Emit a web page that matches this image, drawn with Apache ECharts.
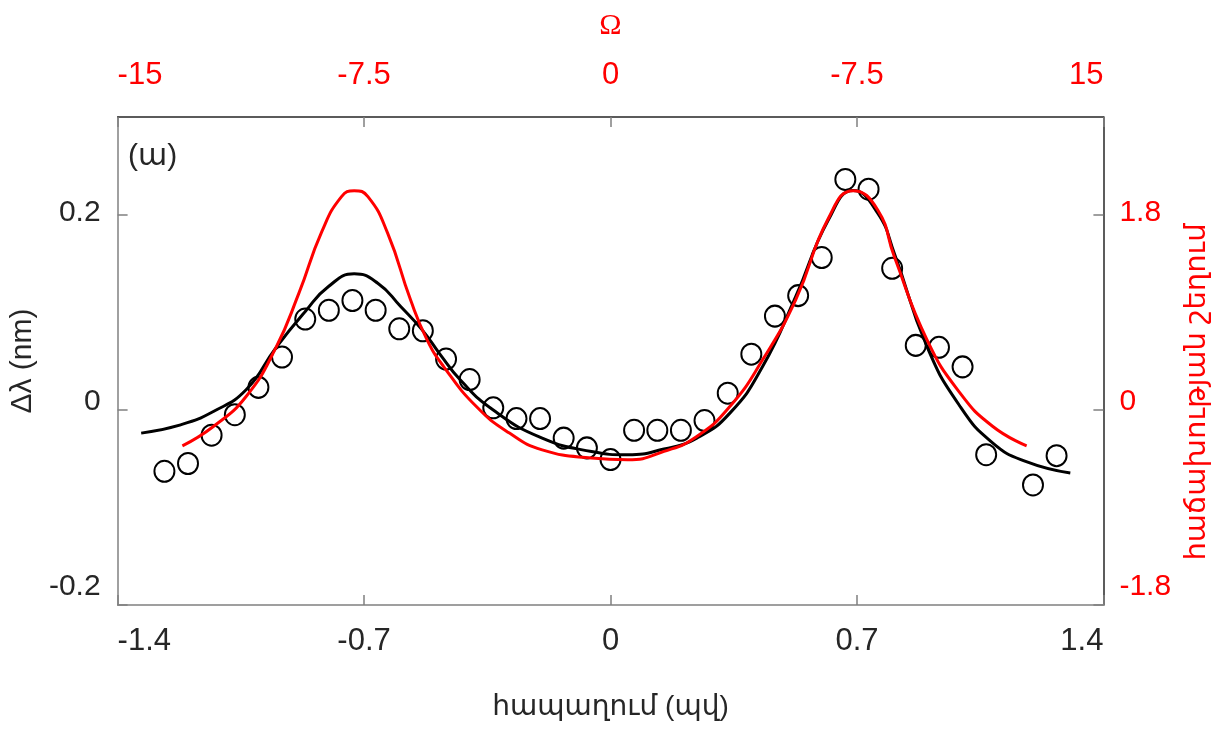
<!DOCTYPE html>
<html><head><meta charset="utf-8">
<script src="https://cdn.jsdelivr.net/npm/echarts@6/dist/echarts.min.js"></script>
<style>html,body{margin:0;padding:0;background:#fff}#c{width:1219px;height:729px}</style>
</head><body><div id="c"></div>
<script>
// measured points (delay in ps, shift in nm)
const delayX = [-1.267,-1.200,-1.133,-1.067,-1.000,-0.933,-0.867,-0.800,-0.733,-0.667,-0.600,-0.533,-0.467,-0.400,-0.333,-0.267,-0.200,-0.133,-0.067,0,0.067,0.133,0.200,0.267,0.333,0.400,0.467,0.533,0.600,0.667,0.733,0.800,0.867,0.933,1.000,1.067,1.200,1.267];
const shiftY = [-0.063,-0.055,-0.026,-0.005,0.023,0.054,0.093,0.102,0.112,0.102,0.083,0.081,0.052,0.031,0.002,-0.009,-0.009,-0.029,-0.039,-0.051,-0.021,-0.021,-0.021,-0.011,0.017,0.057,0.096,0.117,0.156,0.236,0.226,0.145,0.066,0.064,0.044,-0.046,-0.077,-0.047];
// black fit curve (left axis)
const blackX = [-1.333,-1.221,-1.128,-1.035,-0.951,-0.867,-0.801,-0.728,-0.661,-0.596,-0.535,-0.483,-0.427,-0.334,-0.194,-0.054,0.049,0.152,0.245,0.339,0.432,0.526,0.619,0.689,0.759,0.806,0.899,0.993,1.086,1.179,1.306];
const blackY = [-0.0239,-0.0154,-0.0017,0.0205,0.0632,0.1007,0.1263,0.1393,0.1297,0.1058,0.0819,0.0563,0.0307,0.0000,-0.0290,-0.0427,-0.0461,-0.0402,-0.0290,-0.0034,0.0443,0.1160,0.1946,0.2246,0.2014,0.1605,0.0648,0.0034,-0.0341,-0.0529,-0.0648];
// red model curve (right axis)
const redX = [-1.216,-1.128,-1.035,-0.951,-0.885,-0.820,-0.764,-0.728,-0.689,-0.633,-0.568,-0.521,-0.474,-0.381,-0.287,-0.194,-0.054,0.049,0.152,0.245,0.339,0.432,0.526,0.619,0.689,0.759,0.806,0.899,0.993,1.086,1.182];
const redY = [-0.332,-0.154,0.123,0.569,1.076,1.643,1.966,2.021,1.966,1.629,1.014,0.645,0.399,0.030,-0.215,-0.369,-0.445,-0.461,-0.384,-0.246,0.030,0.461,1.014,1.767,2.021,1.843,1.413,0.645,0.154,-0.154,-0.332];
// tick values / labels
const bottomTicks = [-1.4,-0.7,0,0.7,1.4];
const leftTicks = [-0.2,0,0.2];
const rightTicks = [-1.8,0,1.8];
const omegaTicks = [-15,-7.5,0,7.5,15];
const omegaLabels = ['-15','-7.5','0','-7.5','15'];

const FONT = '"Liberation Sans", "DejaVu Sans", Arial, sans-serif';
const DARK = '#262626';
const GRAY = '#808080';

function shiftRich(color) {
  return {
    a: {fontSize: 30, fontFamily: FONT, color: color, padding: [0,0,4,0]},
    b: {fontSize: 30, fontFamily: FONT, color: color, padding: [0,0,16,0]},
    c: {fontSize: 30, fontFamily: FONT, color: color, padding: [0,0,36,0]}
  };
}
function shiftFmt(v, ticks) {
  const i = ticks.indexOf(v);
  const s = String(v);
  if (i === 0) return '{c|' + s + '}';
  if (v === 0) return '{b|' + s + '}';
  return '{a|' + s + '}';
}

const chart = echarts.init(document.getElementById('c'), null, {renderer: 'canvas'});
chart.setOption({
  backgroundColor: '#fff',
  animation: false,
  title: {text: '(ա)', left: 123, top: 137, textStyle: {fontSize: 30, fontWeight: 'normal', color: DARK, fontFamily: FONT}},
  grid: {left: 114, right: 107, top: 117, bottom: 124, containLabel: false},
  xAxis: [{
    type: 'value', position: 'bottom', min: -1.4, max: 1.4, interval: 0.7,
    name: 'հապաղում (պվ)', nameLocation: 'middle', nameGap: 88,
    nameTextStyle: {fontSize: 28, color: DARK, fontFamily: FONT},
    axisLine: {show: true, onZero: false, lineStyle: {color: GRAY, width: 1.5}},
    axisTick: {show: true, inside: true, length: 10, lineStyle: {color: GRAY, width: 1.5}},
    axisLabel: {fontSize: 31, color: DARK, fontFamily: FONT, margin: 21, alignMinLabel: 'left', alignMaxLabel: 'right', customValues: bottomTicks},
    splitLine: {show: false}
  }, {
    type: 'value', position: 'top', min: -15, max: 15, interval: 7.5,
    name: 'Ω', nameLocation: 'middle', nameGap: 76,
    nameTextStyle: {fontSize: 30, color: '#ff0000', fontFamily: '"Liberation Serif", "DejaVu Serif", serif'},
    axisLine: {show: true, onZero: false, lineStyle: {color: DARK, width: 1.5}},
    axisTick: {show: true, inside: true, length: 10, lineStyle: {color: GRAY, width: 1.5}, customValues: omegaTicks},
    axisLabel: {fontSize: 31, color: '#ff0000', fontFamily: FONT, margin: 26, alignMinLabel: 'left', alignMaxLabel: 'right',
      customValues: omegaTicks,
      formatter: v => omegaLabels[omegaTicks.indexOf(v)]},
    splitLine: {show: false}
  }],
  yAxis: [{
    type: 'value', position: 'left', min: -0.2, max: 0.3,
    name: 'Δλ (nm)', nameLocation: 'middle', nameGap: 58,
    nameTextStyle: {fontSize: 30, color: DARK, fontFamily: FONT},
    axisLine: {show: true, onZero: false, lineStyle: {color: GRAY, width: 1.5}},
    axisTick: {show: true, inside: true, length: 10, lineStyle: {color: GRAY, width: 1.5}, customValues: leftTicks},
    axisLabel: {margin: 17, customValues: leftTicks, formatter: v => shiftFmt(v, leftTicks), rich: shiftRich(DARK)},
    splitLine: {show: false}
  }, {
    type: 'value', position: 'right', min: -1.8, max: 2.7,
    name: 'հաճախության շեղում', nameLocation: 'middle', nameGap: 58, nameRotate: 90,
    nameTextStyle: {fontSize: 29, color: '#ff0000', fontFamily: FONT, padding: [0, 62, 0, 0]},
    axisLine: {show: true, onZero: false, lineStyle: {color: DARK, width: 1.5}},
    axisTick: {show: true, inside: true, length: 10, lineStyle: {color: GRAY, width: 1.5}, customValues: rightTicks},
    axisLabel: {margin: 16, customValues: rightTicks, formatter: v => shiftFmt(v, rightTicks), rich: shiftRich('#ff0000')},
    splitLine: {show: false}
  }],
  series: [{
    type: 'line', name: 'fit', xAxisIndex: 0, yAxisIndex: 0,
    data: blackX.map((x, i) => [x, blackY[i]]),
    smooth: 0.5, showSymbol: false,
    lineStyle: {color: '#000', width: 3}, z: 3
  }, {
    type: 'line', name: 'model', xAxisIndex: 0, yAxisIndex: 1,
    data: redX.map((x, i) => [x, redY[i]]),
    smooth: 0.5, showSymbol: false,
    lineStyle: {color: '#ff0000', width: 3}, z: 4
  }, {
    type: 'scatter', name: 'data', xAxisIndex: 0, yAxisIndex: 0,
    data: delayX.map((x, i) => [x, shiftY[i]]),
    symbol: 'circle', symbolSize: [20, 21],
    itemStyle: {color: 'rgba(0,0,0,0)', borderColor: '#000', borderWidth: 2, opacity: 1},
    z: 2
  }]
});
</script>
</body></html>
